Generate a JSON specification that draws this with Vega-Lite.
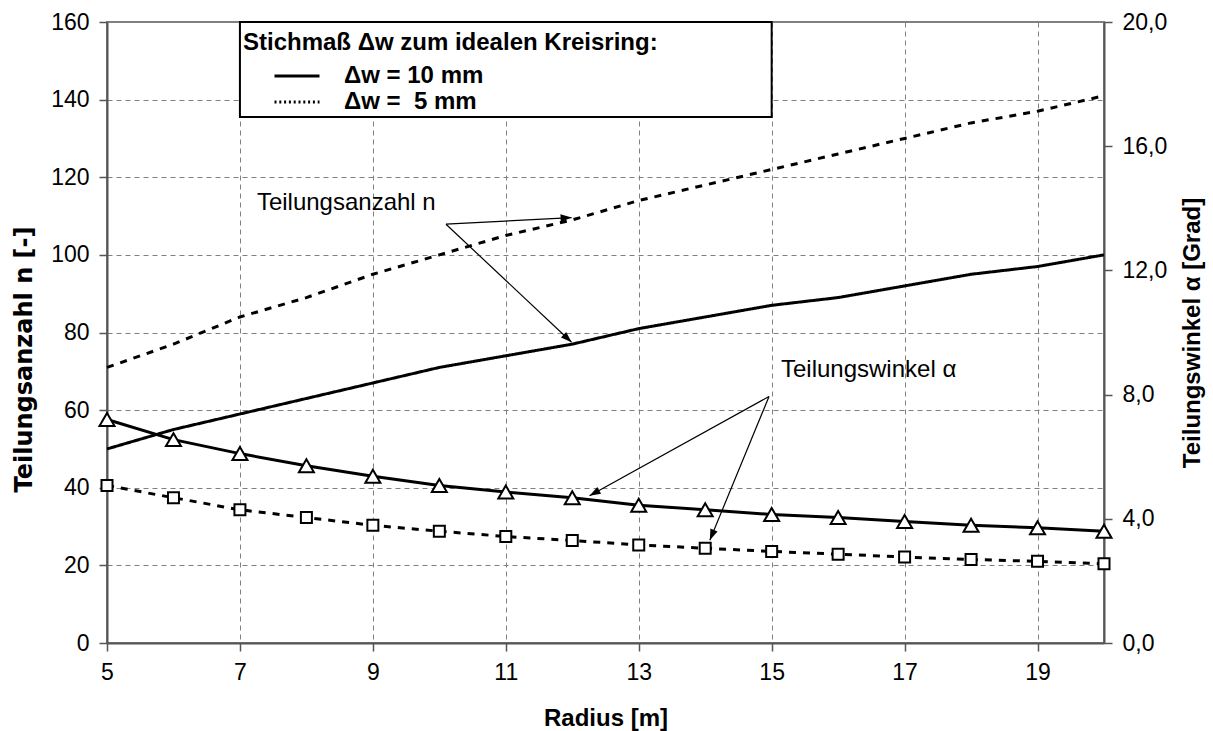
{
  "$schema": "https://vega.github.io/schema/vega-lite/v6.json",
  "width": 997,
  "height": 621,
  "autosize": {"type": "none"},
  "padding": {"left": 107, "top": 22, "right": 109, "bottom": 88},
  "background": "white",
  "config": {
    "font": "Liberation Sans",
    "view": {"stroke": "#808080", "strokeWidth": 2},
    "axis": {
      "labelFont": "Liberation Sans",
      "labelFontSize": 23,
      "labelColor": "black",
      "labelPadding": 10,
      "labelFlush": false,
      "titleFont": "Liberation Sans",
      "titleFontSize": 24,
      "titleFontWeight": "bold",
      "titleColor": "black",
      "domainColor": "#555555",
      "domainWidth": 2,
      "tickColor": "#555555",
      "tickWidth": 1.5,
      "tickSize": 8,
      "gridColor": "#808080",
      "gridDash": [5, 4],
      "gridWidth": 1
    }
  },
  "datasets": {
    "teilung": [
      {"r": 5, "dw": "10 mm", "n": 50, "alpha": 7.20},
      {"r": 6, "dw": "10 mm", "n": 55, "alpha": 6.55},
      {"r": 7, "dw": "10 mm", "n": 59, "alpha": 6.10},
      {"r": 8, "dw": "10 mm", "n": 63, "alpha": 5.71},
      {"r": 9, "dw": "10 mm", "n": 67, "alpha": 5.37},
      {"r": 10, "dw": "10 mm", "n": 71, "alpha": 5.07},
      {"r": 11, "dw": "10 mm", "n": 74, "alpha": 4.86},
      {"r": 12, "dw": "10 mm", "n": 77, "alpha": 4.68},
      {"r": 13, "dw": "10 mm", "n": 81, "alpha": 4.44},
      {"r": 14, "dw": "10 mm", "n": 84, "alpha": 4.29},
      {"r": 15, "dw": "10 mm", "n": 87, "alpha": 4.14},
      {"r": 16, "dw": "10 mm", "n": 89, "alpha": 4.04},
      {"r": 17, "dw": "10 mm", "n": 92, "alpha": 3.91},
      {"r": 18, "dw": "10 mm", "n": 95, "alpha": 3.79},
      {"r": 19, "dw": "10 mm", "n": 97, "alpha": 3.71},
      {"r": 20, "dw": "10 mm", "n": 100, "alpha": 3.60},
      {"r": 5, "dw": "5 mm", "n": 71, "alpha": 5.07},
      {"r": 6, "dw": "5 mm", "n": 77, "alpha": 4.68},
      {"r": 7, "dw": "5 mm", "n": 84, "alpha": 4.29},
      {"r": 8, "dw": "5 mm", "n": 89, "alpha": 4.04},
      {"r": 9, "dw": "5 mm", "n": 95, "alpha": 3.79},
      {"r": 10, "dw": "5 mm", "n": 100, "alpha": 3.60},
      {"r": 11, "dw": "5 mm", "n": 105, "alpha": 3.43},
      {"r": 12, "dw": "5 mm", "n": 109, "alpha": 3.30},
      {"r": 13, "dw": "5 mm", "n": 114, "alpha": 3.16},
      {"r": 14, "dw": "5 mm", "n": 118, "alpha": 3.05},
      {"r": 15, "dw": "5 mm", "n": 122, "alpha": 2.95},
      {"r": 16, "dw": "5 mm", "n": 126, "alpha": 2.86},
      {"r": 17, "dw": "5 mm", "n": 130, "alpha": 2.77},
      {"r": 18, "dw": "5 mm", "n": 134, "alpha": 2.69},
      {"r": 19, "dw": "5 mm", "n": 137, "alpha": 2.63},
      {"r": 20, "dw": "5 mm", "n": 141, "alpha": 2.55}
    ],
    "hinweise": [
      {"text": "Teilungsanzahl n", "r": 7.255, "wert": 111.6},
      {"text": "Teilungswinkel α", "r": 15.14, "wert": 68.6}
    ],
    "pfeile": [
      {"id": "n5", "r": 10.1, "wert": 107.9, "r2": 11.99, "wert2": 109.6},
      {"id": "n10", "r": 10.1, "wert": 107.9, "r2": 11.99, "wert2": 77.5},
      {"id": "a10", "r": 14.96, "wert": 63.5, "r2": 12.26, "wert2": 37.95},
      {"id": "a5", "r": 14.96, "wert": 63.5, "r2": 14.07, "wert2": 26.5}
    ]
  },
  "layer": [
    {
      "layer": [
        {
          "data": {"name": "teilung"},
          "transform": [{"filter": "datum.dw === '10 mm'"}],
          "mark": {"type": "line", "color": "black", "strokeWidth": 3},
          "encoding": {
            "x": {
              "field": "r", "type": "quantitative",
              "scale": {"domain": [5, 20], "nice": false},
              "axis": {"title": "Radius [m]", "values": [5, 7, 9, 11, 13, 15, 17, 19], "format": "d", "grid": true, "titlePadding": 22}
            },
            "y": {
              "field": "n", "type": "quantitative",
              "scale": {"domain": [0, 160], "nice": false},
              "axis": {
                "title": "Teilungsanzahl n [-]",
                "titleFont": "DejaVu Sans",
                "titleFontSize": 24,
                "titleY": 337,
                "values": [0, 20, 40, 60, 80, 100, 120, 140, 160],
                "format": "d",
                "grid": true,
                "titlePadding": 14
              }
            },
            "strokeDash": {
              "field": "dw", "type": "nominal",
              "scale": {"domain": ["10 mm", "5 mm"], "range": [[1, 0], [2, 2.8]]},
              "legend": {
                "title": "Stichmaß Δw zum idealen Kreisring:",
                "orient": "none",
                "legendX": 136,
                "legendY": 9,
                "padding": 0,
                "titleFont": "Liberation Sans",
                "titleFontSize": 24,
                "titleFontWeight": "bold",
                "titleColor": "black",
                "titlePadding": 9,
                "titleLimit": 600,
                "labelFont": "Liberation Sans",
                "labelFontSize": 24,
                "labelFontWeight": "bold",
                "labelColor": "black",
                "labelLimit": 400,
                "labelExpr": "'Δw = ' + (datum.value === '5 mm' ? '\u00a0' : '') + datum.value",
                "symbolType": "M-2.5,0H2.5",
                "symbolSize": 324,
                "symbolStrokeWidth": 3,
                "symbolStrokeColor": "black",
                "symbolOffset": 42,
                "labelOffset": 35,
                "rowPadding": 2
              }
            }
          }
        },
        {
          "data": {"name": "teilung"},
          "transform": [{"filter": "datum.dw === '5 mm'"}],
          "mark": {"type": "line", "color": "black", "strokeWidth": 3, "strokeDash": [7, 7]},
          "encoding": {
            "x": {"field": "r", "type": "quantitative"},
            "y": {"field": "n", "type": "quantitative"}
          }
        },
        {
          "data": {"name": "hinweise"},
          "mark": {"type": "text", "align": "left", "baseline": "alphabetic", "fontSize": 24, "font": "Liberation Sans", "color": "black"},
          "encoding": {
            "x": {"field": "r", "type": "quantitative"},
            "y": {"field": "wert", "type": "quantitative"},
            "text": {"field": "text"}
          }
        },
        {
          "data": {"name": "pfeile"},
          "mark": {"type": "rule", "color": "black", "strokeWidth": 1.2},
          "encoding": {
            "x": {"field": "r", "type": "quantitative"},
            "y": {"field": "wert", "type": "quantitative"},
            "x2": {"field": "r2"},
            "y2": {"field": "wert2"}
          }
        },
        {
          "data": {"name": "pfeile"},
          "transform": [{"filter": "datum.id === 'n5'"}],
          "mark": {"type": "point", "shape": "M0,0L-1,-0.35L-1,0.35Z", "size": 484, "filled": true, "color": "black", "opacity": 1, "angle": 357},
          "encoding": {
            "x": {"field": "r2", "type": "quantitative"},
            "y": {"field": "wert2", "type": "quantitative"}
          }
        },
        {
          "data": {"name": "pfeile"},
          "transform": [{"filter": "datum.id === 'n10'"}],
          "mark": {"type": "point", "shape": "M0,0L-1,-0.35L-1,0.35Z", "size": 484, "filled": true, "color": "black", "opacity": 1, "angle": 43},
          "encoding": {
            "x": {"field": "r2", "type": "quantitative"},
            "y": {"field": "wert2", "type": "quantitative"}
          }
        },
        {
          "data": {"name": "pfeile"},
          "transform": [{"filter": "datum.id === 'a10'"}],
          "mark": {"type": "point", "shape": "M0,0L-1,-0.35L-1,0.35Z", "size": 484, "filled": true, "color": "black", "opacity": 1, "angle": 151},
          "encoding": {
            "x": {"field": "r2", "type": "quantitative"},
            "y": {"field": "wert2", "type": "quantitative"}
          }
        },
        {
          "data": {"name": "pfeile"},
          "transform": [{"filter": "datum.id === 'a5'"}],
          "mark": {"type": "point", "shape": "M0,0L-1,-0.35L-1,0.35Z", "size": 484, "filled": true, "color": "black", "opacity": 1, "angle": 112},
          "encoding": {
            "x": {"field": "r2", "type": "quantitative"},
            "y": {"field": "wert2", "type": "quantitative"}
          }
        }
      ]
    },
    {
      "layer": [
        {
          "data": {"name": "teilung"},
          "transform": [{"filter": "datum.dw === '10 mm'"}],
          "mark": {"type": "line", "color": "black", "strokeWidth": 3},
          "encoding": {
            "x": {"field": "r", "type": "quantitative", "scale": {"domain": [5, 20], "nice": false}},
            "y": {
              "field": "alpha", "type": "quantitative",
              "scale": {"domain": [0, 20], "nice": false},
              "axis": {
                "orient": "right",
                "title": "Teilungswinkel α [Grad]",
                "values": [0, 4, 8, 12, 16, 20],
                "labelExpr": "replace(format(datum.value, '.1f'), '.', ',')",
                "grid": false,
                "titleAngle": 270,
                "titleBaseline": "top",
                "titlePadding": 14
              }
            }
          }
        },
        {
          "data": {"name": "teilung"},
          "transform": [{"filter": "datum.dw === '5 mm'"}],
          "mark": {"type": "line", "color": "black", "strokeWidth": 3, "strokeDash": [7, 7]},
          "encoding": {
            "x": {"field": "r", "type": "quantitative"},
            "y": {"field": "alpha", "type": "quantitative"}
          }
        },
        {
          "data": {"name": "teilung"},
          "transform": [{"filter": "datum.dw === '10 mm'"}],
          "mark": {"type": "point", "shape": "triangle-up", "size": 225, "filled": true, "fill": "white", "stroke": "black", "strokeWidth": 2, "opacity": 1},
          "encoding": {
            "x": {"field": "r", "type": "quantitative"},
            "y": {"field": "alpha", "type": "quantitative"}
          }
        },
        {
          "data": {"name": "teilung"},
          "transform": [{"filter": "datum.dw === '5 mm'"}],
          "mark": {"type": "point", "shape": "square", "size": 121, "filled": true, "fill": "white", "stroke": "black", "strokeWidth": 2, "opacity": 1},
          "encoding": {
            "x": {"field": "r", "type": "quantitative"},
            "y": {"field": "alpha", "type": "quantitative"}
          }
        }
      ]
    },
    {
      "data": {"values": [{}]},
      "mark": {"type": "rect", "fill": "white", "stroke": "black", "strokeWidth": 2},
      "encoding": {
        "x": {"datum": 7, "type": "quantitative"},
        "x2": {"datum": 15},
        "y": {"datum": 135.5, "type": "quantitative", "scale": {"domain": [0, 160], "nice": false}, "axis": null},
        "y2": {"datum": 160}
      }
    }
  ],
  "resolve": {"scale": {"y": "independent"}}
}
